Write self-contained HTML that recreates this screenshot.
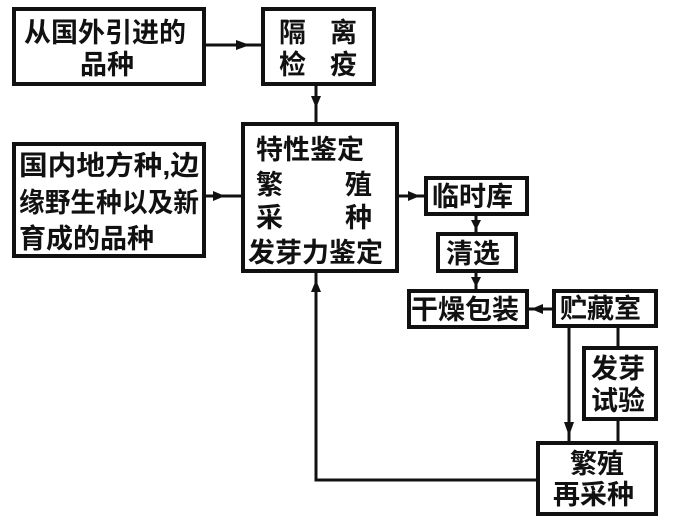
<!DOCTYPE html>
<html><head><meta charset="utf-8"><style>body{margin:0;background:#fff}svg{display:block}text{font-family:"Liberation Sans","Noto Sans CJK SC",sans-serif;font-weight:bold;font-size:27px;fill:#111}</style></head><body>
<svg width="695" height="523" viewBox="0 0 695 523">
<g fill="none" stroke="#111" stroke-width="4">
<rect x="14" y="9" width="190" height="75"/>
<rect x="263" y="9" width="111" height="75"/>
<rect x="14" y="144" width="190" height="112"/>
<rect x="243" y="124" width="154" height="147"/>
<rect x="426" y="178" width="101" height="36"/>
<rect x="438" y="234" width="78" height="37"/>
<rect x="409" y="291" width="118" height="36"/>
<rect x="554" y="291" width="102" height="35"/>
<rect x="584" y="348" width="72" height="71"/>
<rect x="538" y="443" width="118" height="71"/>
</g>
<g stroke="#111" stroke-width="3" fill="none">
<line x1="204" y1="45" x2="263" y2="45"/>
<line x1="316" y1="84" x2="316" y2="124"/>
<line x1="204" y1="196" x2="243" y2="196"/>
<line x1="397" y1="196" x2="426" y2="196"/>
<line x1="476" y1="214" x2="476" y2="234"/>
<line x1="476" y1="271" x2="476" y2="291"/>
<line x1="527" y1="309" x2="554" y2="309"/>
<line x1="569" y1="326" x2="569" y2="443"/>
<line x1="618" y1="326" x2="618" y2="348"/>
<line x1="618" y1="419" x2="618" y2="443"/>
<polyline points="538,480 316,480 316,271"/>
</g>
<g fill="#111">
<polygon points="250,45 236,40 236,50"/>
<polygon points="316,108 311,96 321,96"/>
<polygon points="225,196 213,191 213,201"/>
<polygon points="420,196 408,191 408,201"/>
<polygon points="476,230 471,220 481,220"/>
<polygon points="476,287 471,277 481,277"/>
<polygon points="531,309 543,304 543,314"/>
<polygon points="569,436 564,422 574,422"/>
<polygon points="316,280 311,292 321,292"/>
</g>
<text x="24" y="42">从国外引进的</text>
<text x="80" y="74">品种</text>
<text x="279" y="42">隔</text><text x="330" y="42">离</text>
<text x="279" y="74">检</text><text x="330" y="74">疫</text>
<text x="19" y="175" textLength="180" lengthAdjust="spacingAndGlyphs">国内地方种,边</text>
<text x="19" y="212" textLength="180" lengthAdjust="spacingAndGlyphs">缘野生种以及新</text>
<text x="19" y="248">育成的品种</text>
<text x="256" y="159">特性鉴定</text>
<text x="256" y="194">繁</text><text x="345" y="194">殖</text>
<text x="256" y="227">采</text><text x="345" y="227">种</text>
<text x="248" y="262">发芽力鉴定</text>
<text x="432" y="206">临时库</text>
<text x="446" y="263">清选</text>
<text x="411" y="319">干燥包装</text>
<text x="560" y="318">贮藏室</text>
<text x="591" y="378">发芽</text>
<text x="591" y="410">试验</text>
<text x="570" y="473">繁殖</text>
<text x="553" y="504">再采种</text>
</svg>
</body></html>
